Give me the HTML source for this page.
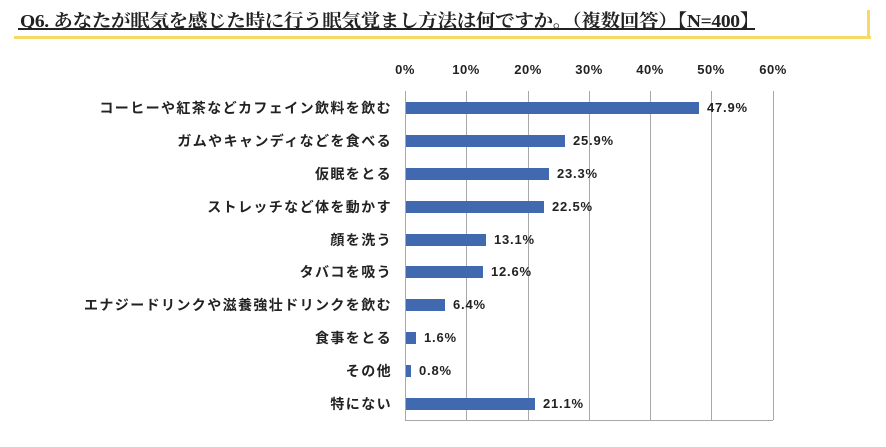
<!DOCTYPE html>
<html><head><meta charset="utf-8"><style>
body{margin:0;width:886px;height:447px;background:#fff;overflow:hidden;position:relative;font-family:"Liberation Sans","Noto Sans CJK JP",sans-serif}
.t{position:absolute;left:20px;top:7px;font-family:"Liberation Serif","Noto Serif CJK SC",serif;font-weight:bold;font-size:18px;color:#222;white-space:nowrap;letter-spacing:-0.3px;transform:scaleX(1.085);transform-origin:0 0}
.ul{position:absolute;left:18px;top:28px;width:737px;height:1.5px;background:#222}
.y1{position:absolute;left:14px;top:36px;width:857px;height:3px;background:#f7d967}
.y2{position:absolute;left:867px;top:10px;width:3px;height:29px;background:#f7d967}
.g{position:absolute;top:91px;height:329px;width:1px;background:#a8a8a8}
.ax{position:absolute;top:62px;font-size:13px;font-weight:bold;color:#222;width:50px;text-align:center;letter-spacing:0.5px}
.lb{position:absolute;right:494px;font-size:14px;font-weight:bold;color:#222;white-space:nowrap;line-height:16px;letter-spacing:1.4px}
.b{position:absolute;left:406px;height:12px;background:#4169b0}
.v{position:absolute;font-size:13px;font-weight:bold;color:#222;line-height:14px;letter-spacing:0.8px}
</style></head><body>
<div class="t">Q6. あなたが眠気を感じた時に行う眠気覚まし方法は何ですか。（複数回答）【N=400】</div>
<div class="ul"></div><div class="y1"></div><div class="y2"></div>
<div style="position:absolute;left:405px;top:420px;width:368px;height:1px;background:#a8a8a8"></div>
<div class="g" style="left:405px"></div><div class="g" style="left:466px"></div><div class="g" style="left:528px"></div><div class="g" style="left:589px"></div><div class="g" style="left:650px"></div><div class="g" style="left:711px"></div><div class="g" style="left:773px"></div>
<div class="ax" style="left:380px">0%</div><div class="ax" style="left:441px">10%</div><div class="ax" style="left:503px">20%</div><div class="ax" style="left:564px">30%</div><div class="ax" style="left:625px">40%</div><div class="ax" style="left:686px">50%</div><div class="ax" style="left:748px">60%</div>
<div class="lb" style="top:100px">コーヒーや紅茶などカフェイン飲料を飲む</div><div class="b" style="top:102px;width:293px"></div><div class="v" style="left:707px;top:101px">47.9%</div>
<div class="lb" style="top:133px">ガムやキャンディなどを食べる</div><div class="b" style="top:135px;width:159px"></div><div class="v" style="left:573px;top:134px">25.9%</div>
<div class="lb" style="top:166px">仮眠をとる</div><div class="b" style="top:168px;width:143px"></div><div class="v" style="left:557px;top:167px">23.3%</div>
<div class="lb" style="top:199px">ストレッチなど体を動かす</div><div class="b" style="top:201px;width:138px"></div><div class="v" style="left:552px;top:200px">22.5%</div>
<div class="lb" style="top:232px">顔を洗う</div><div class="b" style="top:234px;width:80px"></div><div class="v" style="left:494px;top:233px">13.1%</div>
<div class="lb" style="top:264px">タバコを吸う</div><div class="b" style="top:266px;width:77px"></div><div class="v" style="left:491px;top:265px">12.6%</div>
<div class="lb" style="top:297px">エナジードリンクや滋養強壮ドリンクを飲む</div><div class="b" style="top:299px;width:39px"></div><div class="v" style="left:453px;top:298px">6.4%</div>
<div class="lb" style="top:330px">食事をとる</div><div class="b" style="top:332px;width:10px"></div><div class="v" style="left:424px;top:331px">1.6%</div>
<div class="lb" style="top:363px">その他</div><div class="b" style="top:365px;width:5px"></div><div class="v" style="left:419px;top:364px">0.8%</div>
<div class="lb" style="top:396px">特にない</div><div class="b" style="top:398px;width:129px"></div><div class="v" style="left:543px;top:397px">21.1%</div>
</body></html>
